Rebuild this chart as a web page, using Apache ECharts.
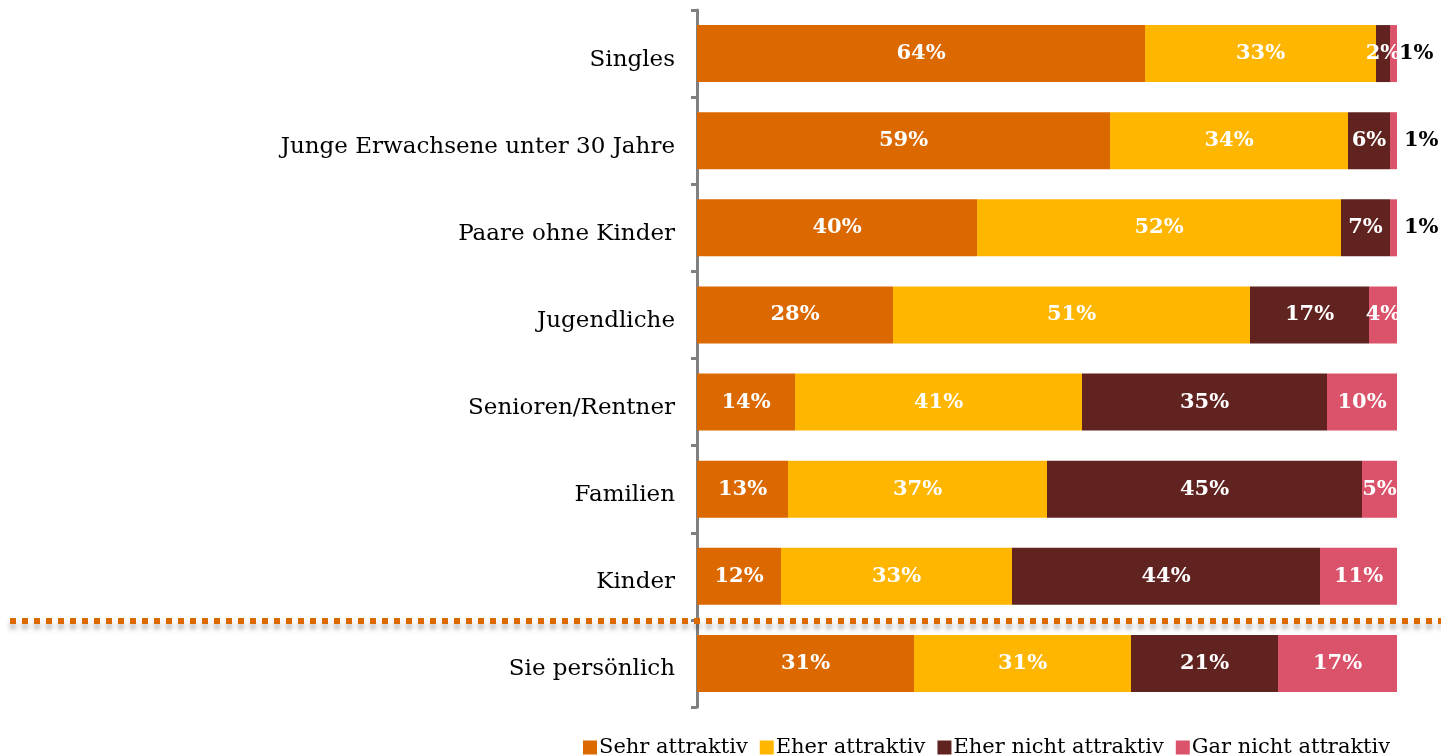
<!DOCTYPE html>
<html>
<head>
<meta charset="utf-8">
<script src="https://cdn.jsdelivr.net/npm/echarts@6/dist/echarts.min.js"></script>
<style>
html,body{margin:0;padding:0;background:#fff;}
#chart{width:1441px;height:756px;}
</style>
</head>
<body>
<div id="chart"></div>
<script>
const categories = ['Singles', 'Junge Erwachsene unter 30 Jahre', 'Paare ohne Kinder', 'Jugendliche', 'Senioren/Rentner', 'Familien', 'Kinder', 'Sie persönlich'];
const seriesNames = ['Sehr attraktiv', 'Eher attraktiv', 'Eher nicht attraktiv', 'Gar nicht attraktiv'];
const sehrAttraktiv = [64, 59, 40, 28, 14, 13, 12, 31];
const eherAttraktiv = [33, 34, 52, 51, 41, 37, 33, 31];
const eherNichtAttraktiv = [2, 6, 7, 17, 35, 45, 44, 21];
const garNichtAttraktiv = [1, 1, 1, 4, 10, 5, 11, 17];
const colors = ['#DC6900', '#FFB600', '#602320', '#DB536A'];
// categories whose "Gar nicht attraktiv" label sits outside the bar
const outsideLabelIdx = [0, 1, 2];

const FONT = '"DejaVu Serif", "Liberation Serif", serif';
const allValues = [sehrAttraktiv, eherAttraktiv, eherNichtAttraktiv, garNichtAttraktiv];

const series = allValues.map((vals, si) => ({
  name: seriesNames[si],
  type: 'bar',
  stack: 'total',
  barWidth: 57,
  itemStyle: { color: colors[si] },
  label: {
    show: true,
    position: 'inside',
    formatter: '{c}%',
    color: '#fff',
    fontFamily: FONT,
    fontWeight: 'bold',
    fontSize: 21,
    padding: [3, 0, 0, 0]
  },
  data: vals.map((v, i) => {
    if (si === 3 && outsideLabelIdx.includes(i)) {
      return { value: v, label: { position: 'right', color: '#000', distance: i === 0 ? 2 : 7 } };
    }
    return v;
  })
}));

const chart = echarts.init(document.getElementById('chart'));
chart.setOption({
  animation: false,
  grid: { left: 697, right: 44, top: 10, bottom: 49, containLabel: false },
  xAxis: { type: 'value', min: 0, max: 100, show: false },
  yAxis: {
    type: 'category',
    data: categories,
    inverse: true,
    offset: 4,
    axisLine: { show: true, lineStyle: { color: '#808080', width: 3 } },
    axisTick: { show: true, length: 6, lineStyle: { color: '#808080', width: 3 } },
    axisLabel: {
      margin: 18,
      formatter: v => '{c|' + v + '}',
      rich: {
        c: { color: '#000', fontFamily: FONT, fontSize: 23, padding: [12, 0, 0, 0] }
      }
    }
  },
  legend: {
    data: seriesNames,
    left: 578,
    top: 732,
    itemWidth: 14,
    itemHeight: 14,
    itemGap: 12,
    icon: 'rect',
    textStyle: { fontFamily: FONT, fontSize: 21, color: '#000', padding: [0, 0, 0, -3] }
  },
  series: series
});

// dotted separator between "Kinder" and "Sie persönlich"
const y1 = chart.convertToPixel({ yAxisIndex: 0 }, categories[6]);
const y2 = chart.convertToPixel({ yAxisIndex: 0 }, categories[7]);
const ySep = (y1 + y2) / 2 + 1;
chart.setOption({
  graphic: [{
    type: 'line',
    z: 100,
    shape: { x1: 10, y1: ySep, x2: 1441, y2: ySep },
    style: {
      stroke: '#DC6900',
      lineWidth: 6,
      lineDash: [6, 6],
      shadowBlur: 5,
      shadowColor: 'rgba(0,0,0,0.3)',
      shadowOffsetY: 5
    }
  }]
});
</script>
</body>
</html>
